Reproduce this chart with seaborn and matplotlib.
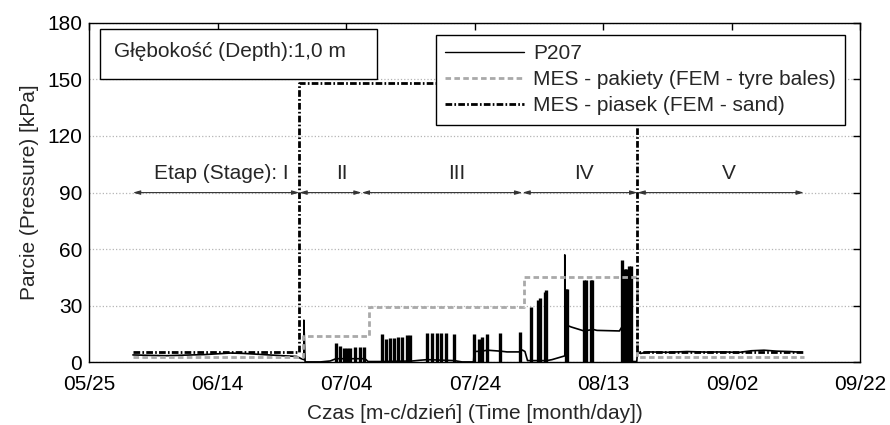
import matplotlib
matplotlib.use("Agg")
import matplotlib.pyplot as plt
from matplotlib.lines import Line2D
from matplotlib.patches import Rectangle
import seaborn as sns

OUTPUT_IMAGE = "out.png"

# x axis: days counted from 05/25
TICK_DAYS = [0, 20, 40, 60, 80, 100, 120]
TICK_LABELS = ["05/25", "06/14", "07/04", "07/24", "08/13", "09/02", "09/22"]
Y_TICKS = [0, 30, 60, 90, 120, 150, 180]

# P207 measured pressure (slow part of the record)
P207_DAY = [6.8, 9.0, 12.0, 15.0, 18.0, 20.0, 22.0, 24.0, 26.0, 28.0, 30.0, 32.3,
            33.0, 33.4, 33.4, 33.6, 36.0, 37.5, 38.4, 42.9, 43.4, 45.5, 50.3, 51.5,
            52.6, 56.8, 58.0, 59.8, 59.9, 61.0, 62.0, 64.0, 65.0, 67.0, 67.4, 67.8,
            68.2, 71.2, 72.0, 73.5, 74.0, 74.0, 74.1, 75.0, 77.0, 78.4, 79.0, 82.5,
            83.2, 84.4, 84.5, 85.2, 85.3, 85.8, 87.0, 90.0, 93.0, 96.0, 99.0, 101.0,
            103.0, 105.0, 107.0, 109.0, 110.8]
P207_KPA = [4.0, 3.8, 3.6, 3.9, 4.2, 4.6, 5.0, 4.8, 4.4, 4.0, 3.6, 3.2,
            2.0, 1.5, 22.4, 0.3, 0.3, 0.8, 2.0, 2.0, 0.5, 0.5, 0.8, 1.2,
            1.5, 1.0, 0.3, 0.3, 5.8, 6.0, 6.5, 6.0, 5.6, 5.6, 6.6, 5.8,
            1.0, 1.0, 1.5, 3.0, 3.5, 57.0, 20.0, 18.8, 16.7, 17.5, 17.0, 16.7,
            20.5, 20.0, 0.5, 0.5, 5.5, 4.8, 5.6, 5.4, 5.8, 5.5, 5.6, 5.3,
            6.2, 6.5, 6.0, 5.8, 5.4]

# P207 short load bursts (peak values)
BURST_DAY = [38.4, 39.1, 39.6, 40.1, 40.6, 41.4, 42.2, 42.8,
             45.5, 46.2, 46.8, 47.4, 48.0, 48.7, 49.4, 49.9,
             52.6, 53.4, 54.1, 54.8, 55.5, 56.7,
             59.8, 60.7, 61.1, 61.9, 63.9, 67.0,
             68.8, 69.9, 70.1, 70.9, 71.1,
             74.2, 74.4,
             77.0, 77.3, 78.0, 78.3,
             82.9, 83.3, 83.5, 84.0, 84.3]
BURST_KPA = [10.4, 8.5, 7.5, 7.5, 7.5, 8.0, 8.0, 8.0,
             15.0, 12.7, 13.0, 13.0, 13.5, 13.5, 14.5, 14.5,
             15.7, 15.7, 15.7, 15.5, 15.5, 15.0,
             15.3, 12.7, 13.6, 15.0, 15.7, 16.0,
             29.4, 33.0, 33.9, 37.5, 38.3,
             39.0, 39.0,
             43.5, 43.5, 43.7, 43.7,
             54.1, 49.7, 49.7, 51.0, 51.0]

# FEM - tyre bales
BALES_DAY = [6.8, 33.3, 33.3, 43.6, 43.6, 67.6, 67.6, 85.3, 85.3, 111.2]
BALES_KPA = [3.0, 3.0, 14.0, 14.0, 29.5, 29.5, 45.3, 45.3, 3.0, 3.0]

# FEM - sand
SAND_DAY = [6.8, 32.7, 32.7, 85.3, 85.3, 111.2]
SAND_KPA = [5.5, 5.5, 148.0, 148.0, 5.5, 5.5]

# construction stages
STAGE_EDGES = [6.8, 32.7, 42.4, 67.4, 85.3, 111.2]
STAGE_NAMES = ["Etap (Stage): I", "II", "III", "IV", "V"]
STAGE_LABEL_DAY = [20.5, 39.3, 57.2, 77.0, 99.5]

LEGEND_LABELS = ["P207", "MES - pakiety (FEM - tyre bales)", "MES - piasek (FEM - sand)"]
FS = 15
GREY = "#a9a9a9"
BALES_LS = (0, (2.0, 1.2))
SAND_LS = (0, (2.4, 0.8, 0.6, 0.8))


def main():
    sns.set_theme(style="white")
    plt.rcParams['font.family'] = ['Liberation Sans', 'DejaVu Sans']

    fig = plt.figure(figsize=(8.9, 4.25), dpi=100)
    ax = fig.add_axes([0.1002, 0.1471, 0.8666, 0.7995])

    # measured signal
    sns.lineplot(x=P207_DAY, y=P207_KPA, ax=ax, color="black", lw=1.2,
                 estimator=None, sort=False)
    ax.vlines(BURST_DAY, 0, BURST_KPA, color="black", lw=2.4)

    # FEM curves
    sns.lineplot(x=BALES_DAY, y=BALES_KPA, ax=ax, color=GREY, lw=2.0,
                 linestyle=BALES_LS, estimator=None, sort=False)
    sns.lineplot(x=SAND_DAY, y=SAND_KPA, ax=ax, color="black", lw=2.0,
                 linestyle=SAND_LS, estimator=None, sort=False)

    # stage arrows
    for i, name in enumerate(STAGE_NAMES):
        ax.annotate("", xy=(STAGE_EDGES[i + 1], 90), xytext=(STAGE_EDGES[i], 90),
                    arrowprops=dict(arrowstyle="<|-|>,head_length=0.35,head_width=0.1",
                                    color="#333333", lw=0.8, shrinkA=0, shrinkB=0))
        ax.text(STAGE_LABEL_DAY[i], 100, name, ha="center", va="center", fontsize=FS)

    # depth box
    ax.add_patch(Rectangle((0.014, 0.834), 0.359, 0.147, transform=ax.transAxes,
                           facecolor="white", edgecolor="black", lw=1.0, zorder=5))
    ax.text(0.0324, 0.915, "Głębokość (Depth):1,0 m", transform=ax.transAxes,
            ha="left", va="center", fontsize=FS, zorder=6)

    # legend
    handles = [Line2D([], [], color="black", lw=1.0),
               Line2D([], [], color=GREY, lw=2.0, linestyle=BALES_LS),
               Line2D([], [], color="black", lw=2.0, linestyle=SAND_LS)]
    leg = ax.legend(handles, LEGEND_LABELS, loc="upper left",
                    bbox_to_anchor=(0.4496, 0.964), borderaxespad=0,
                    fontsize=FS, handlelength=3.8, handletextpad=0.4,
                    labelspacing=0.34, borderpad=0.45, fancybox=False,
                    framealpha=1, edgecolor="black")
    leg.get_frame().set_linewidth(1.0)
    leg.set_zorder(7)

    # axes styling
    ax.set_xlim(0, 120)
    ax.set_ylim(0, 180)
    ax.set_xticks(TICK_DAYS, TICK_LABELS)
    ax.set_yticks(Y_TICKS)
    ax.yaxis.grid(True, linestyle=":", color="#b5b5b5", lw=0.9)
    ax.set_axisbelow(True)
    ax.tick_params(direction="in", top=True, right=True, length=5, width=1,
                   labelsize=FS, colors="black")
    ax.tick_params(axis="x", pad=9)
    ax.tick_params(axis="y", pad=5)
    for sp in ax.spines.values():
        sp.set_color("black")
        sp.set_linewidth(1.0)
    ax.set_xlabel("Czas [m-c/dzień] (Time [month/day])", fontsize=FS, labelpad=7)
    ax.set_ylabel("Parcie (Pressure) [kPa]", fontsize=FS, labelpad=6)

    fig.savefig(OUTPUT_IMAGE, dpi=100)


if __name__ == "__main__":
    main()
